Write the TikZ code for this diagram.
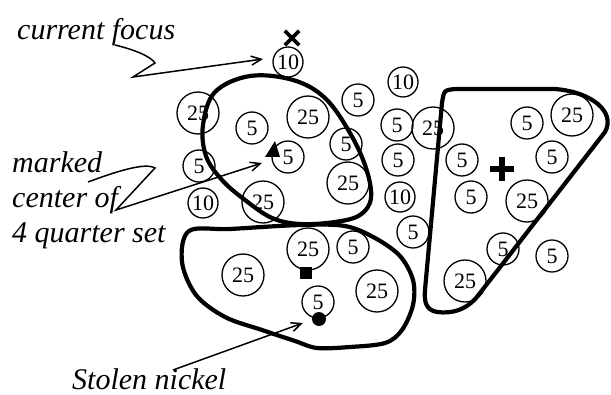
\documentclass[tikz,border=0pt]{standalone}
\usepackage{fontspec}
\setmainfont{Liberation Serif}
\usetikzlibrary{arrows.meta}
\tikzset{
  coin/.style={draw, circle, inner sep=0pt, line width=1.3pt, font=\fontsize{22}{22}\selectfont},
  quarter/.style={coin, minimum size=42pt},
  nickel/.style={coin, minimum size=32pt},
  dime/.style={coin, minimum size=30pt},
  blob/.style={line width=4.2pt, line join=round, line cap=round},
  arr/.style={line width=1.5pt, -{Straight Barb[length=10pt,width=9pt,line width=1.5pt]}},
  lbl/.style={font=\fontsize{30}{32}\selectfont\itshape, inner sep=0pt, anchor=base west},
}
\begin{document}
\begin{tikzpicture}[x=1pt,y=-1pt]
\useasboundingbox[fill=white] (0,0) rectangle (611,395);

% coins
\node[dime]    (c1)  at (288,62)  {10};
\node[quarter] (c2)  at (198,113) {25};
\node[nickel]  (c3)  at (252,128) {5};
\node[quarter] (c4)  at (308,117) {25};
\node[nickel]  (c5)  at (288,157) {5};
\node[nickel]  (c6)  at (199,166) {5};
\node[dime]    (c7)  at (203,203) {10};
\node[quarter] (c8)  at (263,202) {25};
\node[nickel]  (c9)  at (346,144) {5};
\node[quarter] (c10) at (348,183) {25};
\node[nickel]  (c11) at (358,100) {5};
\node[dime]    (c12) at (403,82)  {10};
\node[nickel]  (c13) at (397,125) {5};
\node[quarter] (c14) at (433,128) {25};
\node[nickel]  (c15) at (398,160) {5};
\node[dime]    (c16) at (400,197) {10};
\node[nickel]  (c17) at (413,232) {5};
\node[nickel]  (c18) at (462,160) {5};
\node[nickel]  (c19) at (471,197) {5};
\node[nickel]  (c20) at (527,123) {5};
\node[quarter] (c21) at (572,115) {25};
\node[nickel]  (c22) at (552,157) {5};
\node[quarter] (c23) at (527,201) {25};
\node[nickel]  (c24) at (503,249) {5};
\node[nickel]  (c25) at (552,256) {5};
\node[quarter] (c26) at (465,281) {25};
\node[quarter] (c27) at (308,249) {25};
\node[nickel]  (c28) at (353,247) {5};
\node[quarter] (c29) at (243,275) {25};
\node[quarter] (c30) at (377,291) {25};
\node[nickel]  (c31) at (318,302) {5};

% blobs
\draw[blob] plot[smooth cycle, tension=0.6] coordinates {
  (203,125) (215,92) (250,76) (293,80) (325,98) (350,133) (366,168)
  (371,198) (360,215) (335,222) (300,224) (272,218) (245,200) (222,180) (206,156)};
\draw[blob] plot[smooth cycle, tension=0.55] coordinates {
  (189,231) (230,229) (300,225) (345,226) (375,238) (400,256) (413,280)
  (413,305) (402,330) (385,343) (350,347) (317,348) (295,341) (262,330)
  (225,317) (196,295) (182,262)};
\draw[blob] (442,103) .. controls (444,90) .. (456,89) -- (555,89)
  .. controls (592,92) and (616,112) .. (605,132) -- (480,293)
  .. controls (468,310) and (452,314) .. (437,312)
  .. controls (426,310) and (424,302) .. (425,290) -- cycle;

% markers
\node[inner sep=0pt, minimum size=14pt] (xm) at (292,38) {};
\draw[line width=3.6pt] (xm.north west) -- (xm.south east) (xm.north east) -- (xm.south west);
\coordinate (tri) at (273,151);
\fill (275,141) -- (265,157) -- (280,157) -- cycle;
\node[inner sep=0pt, minimum size=24pt] (plus) at (502,169) {};
\draw[line width=5.5pt] (plus.west) -- (plus.east) (plus.north) -- (plus.south);
\node[fill, inner sep=0pt, minimum size=12pt] (sq) at (306,273) {};
\node[fill, circle, inner sep=0pt, minimum size=14pt] (dot) at (319,319) {};

% labels
\node[lbl] (lfocus) at (17,40) {current focus};
\node[lbl] (lmark1) at (12,173) {marked};
\node[lbl] (lmark2) at (12,208) {center of};
\node[lbl] (lmark3) at (12,243) {4 quarter set};
\node[lbl] (lstolen) at (72,390) {Stolen nickel};

% connectors
\coordinate (f0) at (115,45);
\coordinate (f1) at (155,63);
\coordinate (f2) at (133,77);
\coordinate (fe) at (263,59);
\draw[arr] (f0) .. controls (135,50) and (150,56) .. (f1) -- (f2) -- (fe);

\coordinate (m0) at (88,182);
\coordinate (m1) at (155,168);
\coordinate (m2) at (116,210);
\coordinate (me) at (262,163);
\draw[arr] (m0) .. controls (115,172) and (145,162) .. (m1) -- (m2) -- (me);

\coordinate (s0) at (173,370);
\coordinate (se) at (303,323);
\draw[arr] (s0) -- (se);
\end{tikzpicture}
\end{document}
